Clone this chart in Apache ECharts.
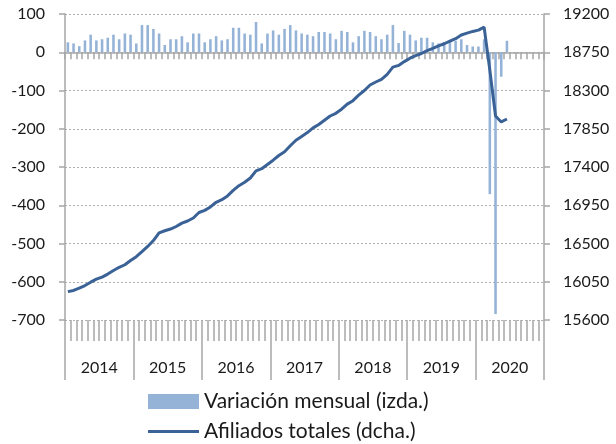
<!DOCTYPE html>
<html>
<head>
<meta charset="utf-8">
<script src="https://cdn.jsdelivr.net/npm/echarts@6/dist/echarts.min.js"></script>
<style>
html, body { margin: 0; padding: 0; background: #fff; }
#chart { width: 616px; height: 444px; }
</style>
</head>
<body>
<div id="chart"></div>
<script>
// afiliados: variacion mensual (izda.) y total (dcha.), miles
var years = ['2014', '2015', '2016', '2017', '2018', '2019', '2020'];
var leftTicks = [-700, -600, -500, -400, -300, -200, -100, 0, 100];
var rightTicks = [15600, 16050, 16500, 16950, 17400, 17850, 18300, 18750, 19200];

var variacion = [
    26, 23, 16, 31, 46, 31, 34, 38, 46, 34, 49, 46,
    23, 71, 71, 61, 49, 19, 34, 34, 42, 26, 49, 49,
    26, 34, 42, 31, 34, 64, 64, 49, 46, 79, 23, 49,
    57, 46, 61, 71, 57, 49, 46, 42, 53, 53, 49, 34,
    56, 53, 26, 42, 56, 53, 42, 34, 46, 71, 24, 56,
    46, 31, 38, 38, 26, 23, 27, 27, 30, 34, 19, 15,
    15, 34, -371, -684, -64, 30
];

var afiliados = [
    15934, 15948, 15975, 16005, 16045, 16080, 16105, 16140, 16182, 16220, 16250, 16300,
    16345, 16405, 16465, 16535, 16625, 16650, 16670, 16700, 16740, 16765, 16800, 16865,
    16890, 16930, 16985, 17015, 17060, 17125, 17180, 17220, 17270, 17355, 17380, 17430,
    17480, 17535, 17580, 17650, 17715, 17760, 17805, 17860, 17900, 17950, 18000, 18032,
    18080, 18140, 18180, 18245, 18300, 18365, 18400, 18432, 18490, 18575, 18595, 18640,
    18680, 18710, 18735, 18770, 18795, 18825, 18850, 18880, 18910, 18953, 18975, 18995,
    19010, 19045, 18540, 18000, 17930, 17965
];

// un hueco por mes, 2014-01 .. 2020-12
var meses = [];
years.forEach(function (y) {
    for (var m = 1; m <= 12; m++) {
        meses.push(y + '-' + (m < 10 ? '0' + m : m));
    }
});

var gris = '#a6a6a6';
var texto = '#1a1a1a';
var fuente = 'Lato';

var myChart = echarts.init(document.getElementById('chart'));
var option = {
    animation: false,
    textStyle: { fontFamily: fuente },
    grid: { left: 65, right: 72, top: 14, bottom: 124, containLabel: false },
    legend: [
        {
            data: ['Variación mensual (izda.)'],
            left: 143, top: 386,
            itemWidth: 51, itemHeight: 15,
            icon: 'rect',
            textStyle: { fontSize: 21, color: texto, fontFamily: fuente }
        },
        {
            data: ['Afiliados totales (dcha.)'],
            left: 143, top: 416,
            itemWidth: 51, itemHeight: 3,
            icon: 'rect',
            textStyle: { fontSize: 21, color: texto, fontFamily: fuente }
        }
    ],
    xAxis: [
        {
            type: 'category',
            data: meses,
            position: 'bottom',
            axisLine: { onZero: true, onZeroAxisIndex: 0, lineStyle: { color: gris, width: 1.5 } },
            axisTick: { show: true, interval: 0, length: 7, lineStyle: { color: gris, width: 1.5 } },
            axisLabel: { show: false },
            splitLine: { show: false }
        },
        {
            type: 'category',
            data: meses,
            position: 'bottom',
            axisLine: { show: false, onZero: false },
            axisTick: { show: true, interval: 0, length: 21, lineStyle: { color: gris, width: 1.5 } },
            axisLabel: { show: false }
        },
        {
            type: 'category',
            data: years,
            position: 'bottom',
            axisLine: { show: false, onZero: false },
            axisTick: { show: true, interval: 0, length: 60, lineStyle: { color: gris, width: 1.5 } },
            axisLabel: { show: true, margin: 40, fontSize: 16, color: texto, fontFamily: fuente }
        }
    ],
    yAxis: [
        {
            type: 'value',
            min: -700, max: 100, interval: 100,
            axisLine: { show: true, lineStyle: { color: gris, width: 1.5 } },
            axisTick: { show: true, length: 6, lineStyle: { color: gris, width: 1.5 } },
            axisLabel: {
                margin: 20, fontSize: 16, color: texto, fontFamily: fuente,
                customValues: leftTicks,
                formatter: function (v) { return String(v); }
            },
            splitLine: { show: true, lineStyle: { color: '#b0b0b0', type: [2, 2], width: 1 } }
        },
        {
            type: 'value',
            min: 15600, max: 19200,
            position: 'right',
            axisLine: { show: true, lineStyle: { color: gris, width: 1.5 } },
            axisTick: { show: true, length: 6, customValues: rightTicks, lineStyle: { color: gris, width: 1.5 } },
            axisLabel: {
                margin: 19, fontSize: 16, color: texto, fontFamily: fuente,
                customValues: rightTicks,
                formatter: function (v) { return String(v); }
            },
            splitLine: { show: false }
        }
    ],
    series: [
        {
            name: 'Variación mensual (izda.)',
            type: 'bar',
            xAxisIndex: 0,
            yAxisIndex: 0,
            data: variacion,
            barWidth: '45%',
            itemStyle: { color: '#95b3d7' }
        },
        {
            name: 'Afiliados totales (dcha.)',
            type: 'line',
            xAxisIndex: 0,
            yAxisIndex: 1,
            data: afiliados,
            showSymbol: false,
            symbol: 'none',
            lineStyle: { color: '#3a6296', width: 3 },
            itemStyle: { color: '#3a6296' }
        }
    ]
};
myChart.setOption(option);
</script>
</body>
</html>
